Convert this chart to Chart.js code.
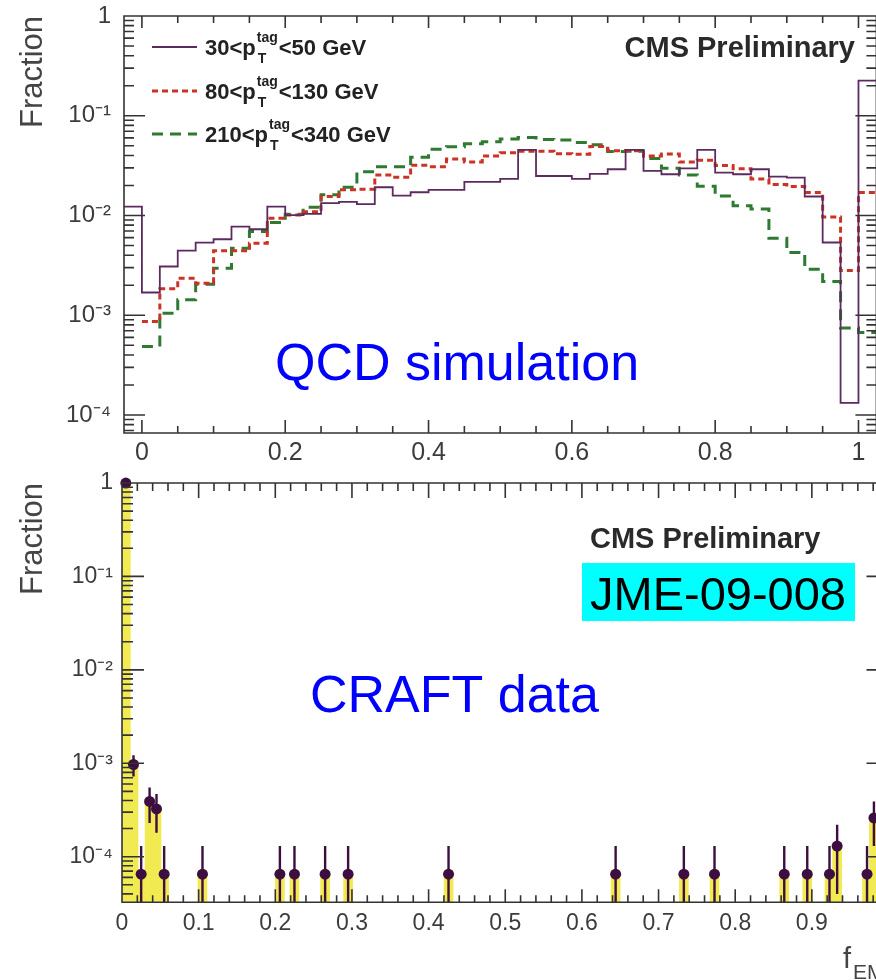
<!DOCTYPE html>
<html>
<head>
<meta charset="utf-8">
<title>f_EM fraction</title>
<script src="https://cdn.jsdelivr.net/npm/chart.js@4.4.1/dist/chart.umd.min.js"></script>
<style>
  html, body { margin: 0; padding: 0; background: #fff; overflow: hidden; }
  body { width: 876px; height: 980px; position: relative; }
  canvas { position: absolute; left: 0; }
  #qcdChart { top: 0; }
  #craftChart { top: 466px; }
</style>
</head>
<body>
<canvas id="qcdChart" width="900" height="472"></canvas>
<canvas id="craftChart" width="900" height="514"></canvas>
<script>
// QCD simulation (top panel): fraction per bin, bins of 0.025 starting at -0.025
const qcdBinStart = -0.025;
const qcdBinWidth = 0.025;
const pt30to50 = [
  0.0123, 0.00169, 0.00308, 0.00445, 0.00535, 0.00578, 0.00774, 0.00728, 0.0123, 0.0101,
  0.0104, 0.0133, 0.0137, 0.0130, 0.0192, 0.0158, 0.0171, 0.0181, 0.0181, 0.0217,
  0.0217, 0.0233, 0.0454, 0.0249, 0.0249, 0.0233, 0.0261, 0.0291, 0.0454, 0.0280,
  0.0259, 0.0297, 0.0454, 0.0269, 0.0259, 0.0291, 0.0245, 0.0240, 0.0155, 0.00536,
  0.000132, 0.225
];
const pt80to130 = [
  0, 0.000865, 0.00184, 0.00235, 0.00209, 0.00442, 0.00442, 0.00527, 0.00939, 0.0101,
  0.0109, 0.0155, 0.0181, 0.0183, 0.0254, 0.0242, 0.0319, 0.0309, 0.0369, 0.0344,
  0.0396, 0.0425, 0.0440, 0.0440, 0.0415, 0.0412, 0.0491, 0.0447, 0.0447, 0.0396,
  0.0414, 0.0344, 0.0358, 0.0318, 0.0295, 0.0232, 0.0204, 0.0195, 0.0170, 0.00965,
  0.00281, 0.0170
];
const pt210to340 = [
  0, 0.000486, 0.00105, 0.00143, 0.00205, 0.00296, 0.00470, 0.00690, 0.00849, 0.0103,
  0.0121, 0.0161, 0.0192, 0.0275, 0.0309, 0.0309, 0.0384, 0.0462, 0.0490, 0.0525,
  0.0548, 0.0585, 0.0605, 0.0578, 0.0570, 0.0538, 0.0512, 0.0437, 0.0440, 0.0372,
  0.0297, 0.0255, 0.0197, 0.0157, 0.0125, 0.0116, 0.00592, 0.00426, 0.00290, 0.00218,
  0.000743, 0.000671
];
const ptLow = ['30', '80', '210'];
const ptHigh = ['50', '130', '340'];

// CRAFT data (bottom panel): only the filled bins
const craftX = [0.005, 0.015, 0.025, 0.036, 0.045, 0.055, 0.105, 0.206, 0.225, 0.265, 0.295,
  0.426, 0.644, 0.733, 0.773, 0.864, 0.894, 0.923, 0.933, 0.972, 0.981];
const craftFraction = [0.998, 0.00097, 0.000065, 0.00039, 0.000325, 0.000065, 0.000065, 0.000065,
  0.000065, 0.000065, 0.000065, 0.000065, 0.000065, 0.000065, 0.000065, 0.000065, 0.000065,
  0.000065, 0.00013, 0.000065, 0.00026];
const craftError = [0.008, 0.00025, 0.000065, 0.00016, 0.000145, 0.000065, 0.000065, 0.000065,
  0.000065, 0.000065, 0.000065, 0.000065, 0.000065, 0.000065, 0.000065, 0.000065, 0.000065,
  0.000065, 0.00009, 0.000065, 0.00013];

const qcdXTicks = [0, 0.2, 0.4, 0.6, 0.8, 1];
const qcdXLabels = ['0', '0.2', '0.4', '0.6', '0.8', '1'];
const craftXTicks = [0, 0.1, 0.2, 0.3, 0.4, 0.5, 0.6, 0.7, 0.8, 0.9, 1];
const craftXLabels = ['0', '0.1', '0.2', '0.3', '0.4', '0.5', '0.6', '0.7', '0.8', '0.9', '1'];
const logTicks = [1e-4, 1e-3, 1e-2, 1e-1, 1];
const logLabels = ['10⁻⁴', '10⁻³', '10⁻²', '10⁻¹', '1'];

const FONT = '"Liberation Sans", Arial, Helvetica, sans-serif';
Chart.defaults.font.family = FONT;
const INK = '#333';
const LABEL = '#3c3c3c';
const PURPLE = '#5d2a60';
const RED = '#cc3324';
const GREEN = '#2f7a31';
const YELLOW = '#f1ea50';
const DOT = '#3d0e40';

function histogram(values) {
  const pts = [];
  values.forEach((v, i) => {
    const lo = qcdBinStart + i * qcdBinWidth;
    pts.push({ x: lo, y: v }, { x: lo + qcdBinWidth, y: v });
  });
  return pts;
}

function steps(from, to, step) {
  const out = [];
  for (let v = from; v <= to + 1e-9; v += step) out.push(+v.toFixed(4));
  return out;
}

function logMinor(lo, hi) {
  const out = [];
  for (let e = -6; e <= 0; e++) {
    for (let k = 2; k <= 9; k++) {
      const v = k * Math.pow(10, e);
      if (v >= lo && v <= hi) out.push(v);
    }
  }
  return out;
}

// ROOT-like frame with inward ticks on all four sides
function frameTicks(cfg) {
  return {
    id: 'frameTicks',
    afterDatasetsDraw(chart) {
      const { ctx, chartArea: a, scales: { x, y } } = chart;
      ctx.save();
      ctx.strokeStyle = INK;
      ctx.lineWidth = 1.6;
      ctx.beginPath();
      ctx.rect(a.left, a.top, a.right - a.left, a.bottom - a.top);
      const xt = (list, len) => list.forEach(v => {
        const p = x.getPixelForValue(v);
        ctx.moveTo(p, a.bottom); ctx.lineTo(p, a.bottom - len[1]);
        ctx.moveTo(p, a.top); ctx.lineTo(p, a.top + len[0]);
      });
      const yt = (list, len) => list.forEach(v => {
        const p = y.getPixelForValue(v);
        ctx.moveTo(a.left, p); ctx.lineTo(a.left + len, p);
        ctx.moveTo(a.right, p); ctx.lineTo(a.right - len, p);
      });
      xt(cfg.xMajor, cfg.xMajorLen);
      xt(cfg.xMinor, cfg.xMinorLen);
      yt(logTicks, cfg.yMajorLen);
      yt(logMinor(y.min, y.max), cfg.yMinorLen);
      ctx.stroke();
      ctx.restore();
    }
  };
}

function textItems(items) {
  return {
    id: 'textItems',
    afterDraw(chart) {
      const ctx = chart.ctx;
      ctx.save();
      items.forEach(t => {
        if (t.box) {
          ctx.fillStyle = t.box;
          ctx.fillRect(t.x, t.y, t.w, t.h);
          return;
        }
        ctx.font = t.font;
        ctx.fillStyle = t.color;
        ctx.textAlign = t.align || 'left';
        ctx.textBaseline = 'alphabetic';
        ctx.fillText(t.text, t.x, t.y);
      });
      ctx.restore();
    }
  };
}

const ptLegend = {
  id: 'ptLegend',
  afterDraw(chart) {
    const ctx = chart.ctx;
    const rows = [47, 91, 134];
    ctx.save();
    chart.data.datasets.forEach((ds, i) => {
      const y = rows[i];
      ctx.strokeStyle = ds.borderColor;
      ctx.lineWidth = ds.borderWidth;
      ctx.setLineDash(ds.borderDash || []);
      ctx.beginPath();
      ctx.moveTo(152, y);
      ctx.lineTo(197, y);
      ctx.stroke();
      ctx.setLineDash([]);
      const base = y + 8;
      ctx.fillStyle = '#222';
      ctx.textBaseline = 'alphabetic';
      ctx.textAlign = 'left';
      let x = 205;
      ctx.font = 'bold 22px ' + FONT;
      const head = ptLow[i] + '<p';
      ctx.fillText(head, x, base);
      x += ctx.measureText(head).width + 1;
      ctx.font = 'bold 14px ' + FONT;
      ctx.fillText('tag', x, base - 13);
      ctx.fillText('T', x + 1, base + 8);
      x += ctx.measureText('tag').width + 1;
      ctx.font = 'bold 22px ' + FONT;
      ctx.fillText('<' + ptHigh[i] + ' GeV', x, base);
    });
    ctx.restore();
  }
};

const craftErrors = {
  id: 'craftErrors',
  beforeDatasetDraw(chart, args) {
    if (args.index !== 1) return;
    const { ctx, chartArea: a, scales: { x, y } } = chart;
    ctx.save();
    ctx.strokeStyle = DOT;
    ctx.lineWidth = 2.4;
    ctx.beginPath();
    craftX.forEach((v, i) => {
      const px = x.getPixelForValue(v);
      const hi = craftFraction[i] + craftError[i];
      const lo = craftFraction[i] - craftError[i];
      const yHi = Math.max(y.getPixelForValue(Math.min(hi, y.max)), a.top);
      const yLo = lo > y.min ? y.getPixelForValue(lo) : a.bottom;
      ctx.moveTo(px, yHi);
      ctx.lineTo(px, yLo);
    });
    ctx.stroke();
    ctx.restore();
  }
};

function logAxis(width, labelPad, fontSize) {
  return {
    type: 'logarithmic',
    grid: { display: false, drawTicks: false },
    border: { display: false },
    afterBuildTicks: s => { s.ticks = logTicks.map(v => ({ value: v })); },
    afterFit: s => { s.width = width; s.paddingTop = 0; s.paddingBottom = 0; },
    ticks: {
      padding: labelPad, color: LABEL, font: { size: fontSize },
      callback: (v, i) => logLabels[i]
    },
    title: {
      display: true, text: 'Fraction', align: 'end', color: '#444',
      font: { size: 31 }, padding: { top: 15, bottom: 0 }
    }
  };
}

function linAxis(ticks, labels, height, labelPad, fontSize) {
  return {
    type: 'linear',
    offset: false,
    grid: { display: false, drawTicks: false, offset: false },
    border: { display: false },
    afterBuildTicks: s => { s.ticks = ticks.map(v => ({ value: v })); },
    afterFit: s => { s.height = height; s.paddingLeft = 0; s.paddingRight = 0; },
    ticks: {
      autoSkip: false, maxRotation: 0, padding: labelPad, color: LABEL,
      font: { size: fontSize }, callback: (v, i) => labels[i]
    }
  };
}

// ---------- top panel ----------
const qcdX = linAxis(qcdXTicks, qcdXLabels, 39, 5, 25);
qcdX.min = -0.025;
qcdX.max = 1.025;
const qcdY = logAxis(124, 13, 24);
qcdY.min = 6.6e-5;
qcdY.max = 1;

new Chart(document.getElementById('qcdChart'), {
  type: 'line',
  data: {
    datasets: [
      { label: '30-50', data: histogram(pt30to50), borderColor: PURPLE, borderWidth: 1.8 },
      { label: '80-130', data: histogram(pt80to130), borderColor: RED, borderWidth: 3, borderDash: [6, 4] },
      { label: '210-340', data: histogram(pt210to340), borderColor: GREEN, borderWidth: 3, borderDash: [11, 7] }
    ]
  },
  options: {
    responsive: false,
    animation: false,
    elements: { point: { radius: 0 }, line: { tension: 0, fill: false } },
    layout: { padding: { left: 0, top: 16, right: 900 - 876.4, bottom: 0 } },
    plugins: { legend: { display: false }, tooltip: { enabled: false } },
    scales: { x: qcdX, y: qcdY }
  },
  plugins: [
    frameTicks({
      xMajor: qcdXTicks, xMinor: steps(0.05, 1, 0.05).filter(v => Math.abs(v * 5 - Math.round(v * 5)) > 1e-6),
      xMajorLen: [12, 13], xMinorLen: [7, 7], yMajorLen: 21, yMinorLen: 10
    }),
    ptLegend,
    textItems([
      { text: 'CMS Preliminary', x: 855, y: 57, align: 'right', font: 'bold 29px ' + FONT, color: '#2a2a2a' },
      { text: 'QCD simulation', x: 275, y: 380, font: '52px ' + FONT, color: '#0000ff' }
    ])
  ]
});

// ---------- bottom panel ----------
const craftXAxis = linAxis(craftXTicks, craftXLabels, 77.7, 8, 23);
craftXAxis.min = 0;
craftXAxis.max = 1;
const craftY = logAxis(122, 9, 23);
craftY.min = 3.25e-5;
craftY.max = 1;

new Chart(document.getElementById('craftChart'), {
  type: 'bar',
  data: {
    datasets: [
      {
        label: 'CRAFT fill',
        order: 2,
        data: craftX.map((v, i) => ({ x: v, y: craftFraction[i] })),
        backgroundColor: YELLOW, borderWidth: 0, barThickness: 9
      },
      {
        type: 'scatter',
        label: 'CRAFT data',
        order: 1,
        data: craftX.map((v, i) => ({ x: v, y: craftFraction[i] })),
        backgroundColor: DOT, borderColor: DOT, pointRadius: 5.5, borderWidth: 0, clip: false
      }
    ]
  },
  options: {
    responsive: false,
    animation: false,
    layout: { padding: { left: 0, top: 17, right: 900 - 888.5, bottom: 0 } },
    plugins: { legend: { display: false }, tooltip: { enabled: false } },
    scales: { x: craftXAxis, y: craftY }
  },
  plugins: [
    craftErrors,
    frameTicks({
      xMajor: craftXTicks, xMinor: steps(0.02, 1, 0.02).filter(v => Math.abs(v * 10 - Math.round(v * 10)) > 1e-6),
      xMajorLen: [15, 13], xMinorLen: [8, 7], yMajorLen: 22, yMinorLen: 11
    }),
    textItems([
      { text: 'CMS Preliminary', x: 590, y: 82, font: 'bold 29px ' + FONT, color: '#2a2a2a' },
      { box: '#00ffff', x: 582, y: 97, w: 273, h: 58 },
      { text: 'JME-09-008', x: 590, y: 144, font: '47px ' + FONT, color: '#000' },
      { text: 'CRAFT data', x: 310, y: 246, font: '52px ' + FONT, color: '#0000ff' },
      { text: 'f', x: 843, y: 502, font: '29px ' + FONT, color: '#444' },
      { text: 'EM', x: 853, y: 513, font: '21px ' + FONT, color: '#444' }
    ])
  ]
});
</script>
</body>
</html>
